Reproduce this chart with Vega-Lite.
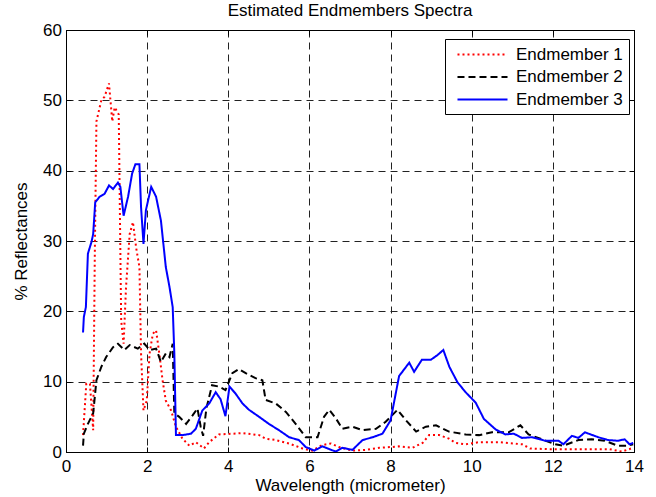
{
  "$schema": "https://vega.github.io/schema/vega-lite/v6.json",
  "autosize": {"type": "none"},
  "padding": {"left": 66, "top": 30, "right": 22, "bottom": 45},
  "width": 568,
  "height": 422,
  "background": "white",
  "title": {"text": "Estimated Endmembers Spectra", "fontSize": 17, "fontWeight": "normal", "font": "Liberation Sans", "color": "black", "offset": 1},
  "config": {
    "view": {"stroke": "black", "strokeWidth": 1},
    "axis": {
      "labelFont": "Liberation Sans", "labelFontSize": 17, "labelColor": "black",
      "titleFont": "Liberation Sans", "titleFontSize": 17, "titleFontWeight": "normal", "titleColor": "black",
      "domainColor": "black", "tickColor": "black", "tickSize": -5, "labelPadding": 11,
      "gridColor": "#222", "gridDash": [7, 5], "gridWidth": 1
    },
    "legend": {"labelFont": "Liberation Sans", "labelFontSize": 17, "labelColor": "black"}
  },
  "data": {"values": [
    {"x":0.42,"y":2.4,"s":"Endmember 1"},{"x":0.5,"y":9.7,"s":"Endmember 1"},{"x":0.59,"y":9.7,"s":"Endmember 1"},{"x":0.67,"y":3.1,"s":"Endmember 1"},{"x":0.71,"y":28,"s":"Endmember 1"},{"x":0.75,"y":47,"s":"Endmember 1"},{"x":0.87,"y":50,"s":"Endmember 1"},{"x":0.95,"y":50.5,"s":"Endmember 1"},{"x":1.06,"y":52.4,"s":"Endmember 1"},{"x":1.14,"y":47,"s":"Endmember 1"},{"x":1.2,"y":49,"s":"Endmember 1"},{"x":1.3,"y":48,"s":"Endmember 1"},{"x":1.36,"y":18.7,"s":"Endmember 1"},{"x":1.42,"y":15.4,"s":"Endmember 1"},{"x":1.48,"y":23.5,"s":"Endmember 1"},{"x":1.57,"y":31,"s":"Endmember 1"},{"x":1.65,"y":32.7,"s":"Endmember 1"},{"x":1.73,"y":29,"s":"Endmember 1"},{"x":1.81,"y":26.3,"s":"Endmember 1"},{"x":1.85,"y":14,"s":"Endmember 1"},{"x":1.91,"y":5.9,"s":"Endmember 1"},{"x":1.99,"y":7.3,"s":"Endmember 1"},{"x":2.06,"y":14,"s":"Endmember 1"},{"x":2.14,"y":16.8,"s":"Endmember 1"},{"x":2.22,"y":17.3,"s":"Endmember 1"},{"x":2.3,"y":14,"s":"Endmember 1"},{"x":2.38,"y":10.2,"s":"Endmember 1"},{"x":2.46,"y":7.3,"s":"Endmember 1"},{"x":2.59,"y":5.9,"s":"Endmember 1"},{"x":2.71,"y":3.6,"s":"Endmember 1"},{"x":2.87,"y":1.9,"s":"Endmember 1"},{"x":3.04,"y":0.9,"s":"Endmember 1"},{"x":3.2,"y":1.4,"s":"Endmember 1"},{"x":3.4,"y":0.5,"s":"Endmember 1"},{"x":3.53,"y":1.4,"s":"Endmember 1"},{"x":3.77,"y":2.5,"s":"Endmember 1"},{"x":4.1,"y":2.6,"s":"Endmember 1"},{"x":4.35,"y":2.7,"s":"Endmember 1"},{"x":4.76,"y":2.4,"s":"Endmember 1"},{"x":4.92,"y":1.9,"s":"Endmember 1"},{"x":5.17,"y":1.7,"s":"Endmember 1"},{"x":5.5,"y":1.2,"s":"Endmember 1"},{"x":5.83,"y":0.5,"s":"Endmember 1"},{"x":6.07,"y":0.2,"s":"Endmember 1"},{"x":6.32,"y":1.0,"s":"Endmember 1"},{"x":6.53,"y":1.2,"s":"Endmember 1"},{"x":6.73,"y":0.7,"s":"Endmember 1"},{"x":7.06,"y":0.2,"s":"Endmember 1"},{"x":7.39,"y":0.3,"s":"Endmember 1"},{"x":7.72,"y":0.6,"s":"Endmember 1"},{"x":8.0,"y":0.7,"s":"Endmember 1"},{"x":8.2,"y":0.8,"s":"Endmember 1"},{"x":8.54,"y":0.6,"s":"Endmember 1"},{"x":8.79,"y":1.3,"s":"Endmember 1"},{"x":8.95,"y":2.4,"s":"Endmember 1"},{"x":9.2,"y":2.4,"s":"Endmember 1"},{"x":9.44,"y":1.9,"s":"Endmember 1"},{"x":9.6,"y":1.3,"s":"Endmember 1"},{"x":9.85,"y":1.1,"s":"Endmember 1"},{"x":10.18,"y":1.4,"s":"Endmember 1"},{"x":10.67,"y":1.4,"s":"Endmember 1"},{"x":11.24,"y":1.1,"s":"Endmember 1"},{"x":11.44,"y":0.5,"s":"Endmember 1"},{"x":11.89,"y":0.4,"s":"Endmember 1"},{"x":12.7,"y":0.4,"s":"Endmember 1"},{"x":13.4,"y":0.4,"s":"Endmember 1"},{"x":13.7,"y":0.05,"s":"Endmember 1"},{"x":13.93,"y":0.5,"s":"Endmember 1"},
    {"x":0.42,"y":0.9,"s":"Endmember 2"},{"x":0.44,"y":2.6,"s":"Endmember 2"},{"x":0.54,"y":4.0,"s":"Endmember 2"},{"x":0.67,"y":5.5,"s":"Endmember 2"},{"x":0.75,"y":10.2,"s":"Endmember 2"},{"x":0.87,"y":12.1,"s":"Endmember 2"},{"x":0.99,"y":13.5,"s":"Endmember 2"},{"x":1.16,"y":14.9,"s":"Endmember 2"},{"x":1.28,"y":15.4,"s":"Endmember 2"},{"x":1.44,"y":14.5,"s":"Endmember 2"},{"x":1.57,"y":15.2,"s":"Endmember 2"},{"x":1.77,"y":14.7,"s":"Endmember 2"},{"x":1.93,"y":15.4,"s":"Endmember 2"},{"x":2.06,"y":14.5,"s":"Endmember 2"},{"x":2.22,"y":14.7,"s":"Endmember 2"},{"x":2.34,"y":12.8,"s":"Endmember 2"},{"x":2.46,"y":14.0,"s":"Endmember 2"},{"x":2.55,"y":13.5,"s":"Endmember 2"},{"x":2.63,"y":15.4,"s":"Endmember 2"},{"x":2.67,"y":5.5,"s":"Endmember 2"},{"x":2.79,"y":5.0,"s":"Endmember 2"},{"x":2.96,"y":4.0,"s":"Endmember 2"},{"x":3.12,"y":5.2,"s":"Endmember 2"},{"x":3.24,"y":6.2,"s":"Endmember 2"},{"x":3.32,"y":3.6,"s":"Endmember 2"},{"x":3.38,"y":2.3,"s":"Endmember 2"},{"x":3.46,"y":6.2,"s":"Endmember 2"},{"x":3.6,"y":9.5,"s":"Endmember 2"},{"x":3.77,"y":9.3,"s":"Endmember 2"},{"x":3.93,"y":8.8,"s":"Endmember 2"},{"x":4.1,"y":11.2,"s":"Endmember 2"},{"x":4.26,"y":11.8,"s":"Endmember 2"},{"x":4.43,"y":11.2,"s":"Endmember 2"},{"x":4.67,"y":10.5,"s":"Endmember 2"},{"x":4.84,"y":10.2,"s":"Endmember 2"},{"x":4.92,"y":7.4,"s":"Endmember 2"},{"x":5.17,"y":6.9,"s":"Endmember 2"},{"x":5.42,"y":5.7,"s":"Endmember 2"},{"x":5.66,"y":4.0,"s":"Endmember 2"},{"x":5.91,"y":2.1,"s":"Endmember 2"},{"x":6.2,"y":2.1,"s":"Endmember 2"},{"x":6.36,"y":5.0,"s":"Endmember 2"},{"x":6.49,"y":6.0,"s":"Endmember 2"},{"x":6.65,"y":4.8,"s":"Endmember 2"},{"x":6.81,"y":3.3,"s":"Endmember 2"},{"x":7.06,"y":3.6,"s":"Endmember 2"},{"x":7.31,"y":3.1,"s":"Endmember 2"},{"x":7.64,"y":3.3,"s":"Endmember 2"},{"x":7.88,"y":4.3,"s":"Endmember 2"},{"x":8.17,"y":6.0,"s":"Endmember 2"},{"x":8.38,"y":4.5,"s":"Endmember 2"},{"x":8.63,"y":2.9,"s":"Endmember 2"},{"x":8.87,"y":3.6,"s":"Endmember 2"},{"x":9.12,"y":3.8,"s":"Endmember 2"},{"x":9.44,"y":2.9,"s":"Endmember 2"},{"x":9.85,"y":2.5,"s":"Endmember 2"},{"x":10.18,"y":2.4,"s":"Endmember 2"},{"x":10.5,"y":2.8,"s":"Endmember 2"},{"x":10.91,"y":2.8,"s":"Endmember 2"},{"x":11.2,"y":3.8,"s":"Endmember 2"},{"x":11.4,"y":2.5,"s":"Endmember 2"},{"x":11.73,"y":1.8,"s":"Endmember 2"},{"x":12.06,"y":1.1,"s":"Endmember 2"},{"x":12.26,"y":0.9,"s":"Endmember 2"},{"x":12.63,"y":1.7,"s":"Endmember 2"},{"x":12.96,"y":1.8,"s":"Endmember 2"},{"x":13.28,"y":1.6,"s":"Endmember 2"},{"x":13.6,"y":0.9,"s":"Endmember 2"},{"x":13.85,"y":0.9,"s":"Endmember 2"},{"x":13.98,"y":1.1,"s":"Endmember 2"},
    {"x":0.42,"y":17,"s":"Endmember 3"},{"x":0.44,"y":19.2,"s":"Endmember 3"},{"x":0.49,"y":20.6,"s":"Endmember 3"},{"x":0.54,"y":28.2,"s":"Endmember 3"},{"x":0.63,"y":29.9,"s":"Endmember 3"},{"x":0.67,"y":31,"s":"Endmember 3"},{"x":0.72,"y":35.5,"s":"Endmember 3"},{"x":0.83,"y":36.3,"s":"Endmember 3"},{"x":0.95,"y":36.7,"s":"Endmember 3"},{"x":1.06,"y":37.9,"s":"Endmember 3"},{"x":1.16,"y":37.4,"s":"Endmember 3"},{"x":1.28,"y":38.3,"s":"Endmember 3"},{"x":1.34,"y":37.7,"s":"Endmember 3"},{"x":1.42,"y":33.6,"s":"Endmember 3"},{"x":1.53,"y":36.3,"s":"Endmember 3"},{"x":1.63,"y":39.6,"s":"Endmember 3"},{"x":1.71,"y":40.9,"s":"Endmember 3"},{"x":1.81,"y":40.9,"s":"Endmember 3"},{"x":1.85,"y":34.8,"s":"Endmember 3"},{"x":1.91,"y":29.6,"s":"Endmember 3"},{"x":1.97,"y":34.4,"s":"Endmember 3"},{"x":2.1,"y":37.7,"s":"Endmember 3"},{"x":2.22,"y":36.3,"s":"Endmember 3"},{"x":2.34,"y":32.9,"s":"Endmember 3"},{"x":2.46,"y":26.3,"s":"Endmember 3"},{"x":2.55,"y":23.5,"s":"Endmember 3"},{"x":2.63,"y":20.6,"s":"Endmember 3"},{"x":2.67,"y":14,"s":"Endmember 3"},{"x":2.71,"y":2.4,"s":"Endmember 3"},{"x":2.87,"y":2.4,"s":"Endmember 3"},{"x":3.08,"y":2.6,"s":"Endmember 3"},{"x":3.2,"y":3.3,"s":"Endmember 3"},{"x":3.36,"y":5.9,"s":"Endmember 3"},{"x":3.53,"y":6.9,"s":"Endmember 3"},{"x":3.69,"y":8.5,"s":"Endmember 3"},{"x":3.81,"y":7.5,"s":"Endmember 3"},{"x":3.93,"y":5.1,"s":"Endmember 3"},{"x":4.03,"y":9.3,"s":"Endmember 3"},{"x":4.18,"y":8.3,"s":"Endmember 3"},{"x":4.35,"y":6.9,"s":"Endmember 3"},{"x":4.51,"y":6.0,"s":"Endmember 3"},{"x":4.76,"y":5.0,"s":"Endmember 3"},{"x":5.0,"y":4.0,"s":"Endmember 3"},{"x":5.25,"y":3.1,"s":"Endmember 3"},{"x":5.5,"y":2.1,"s":"Endmember 3"},{"x":5.74,"y":1.7,"s":"Endmember 3"},{"x":5.91,"y":0.7,"s":"Endmember 3"},{"x":6.12,"y":0.2,"s":"Endmember 3"},{"x":6.32,"y":0.8,"s":"Endmember 3"},{"x":6.65,"y":0.05,"s":"Endmember 3"},{"x":6.81,"y":0.6,"s":"Endmember 3"},{"x":7.06,"y":0.3,"s":"Endmember 3"},{"x":7.31,"y":1.7,"s":"Endmember 3"},{"x":7.56,"y":2.1,"s":"Endmember 3"},{"x":7.8,"y":2.6,"s":"Endmember 3"},{"x":8.0,"y":4.5,"s":"Endmember 3"},{"x":8.21,"y":10.8,"s":"Endmember 3"},{"x":8.46,"y":12.7,"s":"Endmember 3"},{"x":8.58,"y":11.4,"s":"Endmember 3"},{"x":8.77,"y":13.1,"s":"Endmember 3"},{"x":8.99,"y":13.1,"s":"Endmember 3"},{"x":9.16,"y":13.8,"s":"Endmember 3"},{"x":9.3,"y":14.5,"s":"Endmember 3"},{"x":9.45,"y":12.1,"s":"Endmember 3"},{"x":9.65,"y":9.9,"s":"Endmember 3"},{"x":9.85,"y":8.5,"s":"Endmember 3"},{"x":10.1,"y":7.0,"s":"Endmember 3"},{"x":10.3,"y":4.7,"s":"Endmember 3"},{"x":10.59,"y":3.2,"s":"Endmember 3"},{"x":10.83,"y":2.5,"s":"Endmember 3"},{"x":11.04,"y":2.6,"s":"Endmember 3"},{"x":11.24,"y":2.0,"s":"Endmember 3"},{"x":11.49,"y":2.1,"s":"Endmember 3"},{"x":11.81,"y":1.6,"s":"Endmember 3"},{"x":12.14,"y":1.6,"s":"Endmember 3"},{"x":12.26,"y":1.1,"s":"Endmember 3"},{"x":12.47,"y":2.3,"s":"Endmember 3"},{"x":12.63,"y":2.0,"s":"Endmember 3"},{"x":12.79,"y":2.8,"s":"Endmember 3"},{"x":13.12,"y":2.1,"s":"Endmember 3"},{"x":13.36,"y":1.7,"s":"Endmember 3"},{"x":13.6,"y":1.6,"s":"Endmember 3"},{"x":13.77,"y":1.8,"s":"Endmember 3"},{"x":13.89,"y":1.1,"s":"Endmember 3"},{"x":13.98,"y":1.3,"s":"Endmember 3"}
  ]},
  "resolve": {"axis": {"x": "independent", "y": "independent"}},
  "layer": [
    {
      "mark": {"type": "line", "strokeWidth": 2, "clip": true},
      "encoding": {
        "x": {"field": "x", "type": "quantitative", "scale": {"domain": [0, 14], "nice": false},
              "axis": {"values": [0,2,4,6,8,10,12,14], "grid": true, "title": "Wavelength (micrometer)", "titlePadding": 3, "labelFlush": false}},
        "y": {"field": "y", "type": "quantitative", "scale": {"domain": [0, 60], "nice": false},
              "axis": {"values": [0,10,20,30,40,50,60], "grid": true, "title": "% Reflectances", "titlePadding": 12, "labelPadding": 9.5}},
        "color": {"field": "s", "type": "nominal",
                  "scale": {"domain": ["Endmember 1", "Endmember 2", "Endmember 3"], "range": ["#ff0000", "#000000", "#0000ff"]},
                  "legend": {"title": null, "orient": "none", "legendX": 379, "legendY": 9,
                             "symbolType": "M-3,0H3", "symbolSize": 278, "symbolStrokeWidth": 2, "symbolOffset": 22,
                             "strokeColor": "black", "fillColor": "white", "padding": 6, "rowPadding": 4.5, "labelOffset": 24,
                             "symbolOpacity": 1}},
        "strokeDash": {"field": "s", "type": "nominal",
                       "scale": {"domain": ["Endmember 1", "Endmember 2", "Endmember 3"], "range": [[2, 3], [7, 4], [1, 0]]},
                       "legend": null},
        "order": {"field": "x", "type": "quantitative"}
      }
    },
    {
      "mark": {"type": "line", "opacity": 0},
      "encoding": {
        "x": {"field": "x", "type": "quantitative", "scale": {"domain": [0, 14], "nice": false},
              "axis": {"orient": "top", "values": [0,2,4,6,8,10,12,14], "labels": false, "title": null, "grid": false}},
        "y": {"field": "y", "type": "quantitative", "scale": {"domain": [0, 60], "nice": false},
              "axis": {"orient": "right", "values": [0,10,20,30,40,50,60], "labels": false, "title": null, "grid": false}},
        "detail": {"field": "s"}
      }
    }
  ]
}
